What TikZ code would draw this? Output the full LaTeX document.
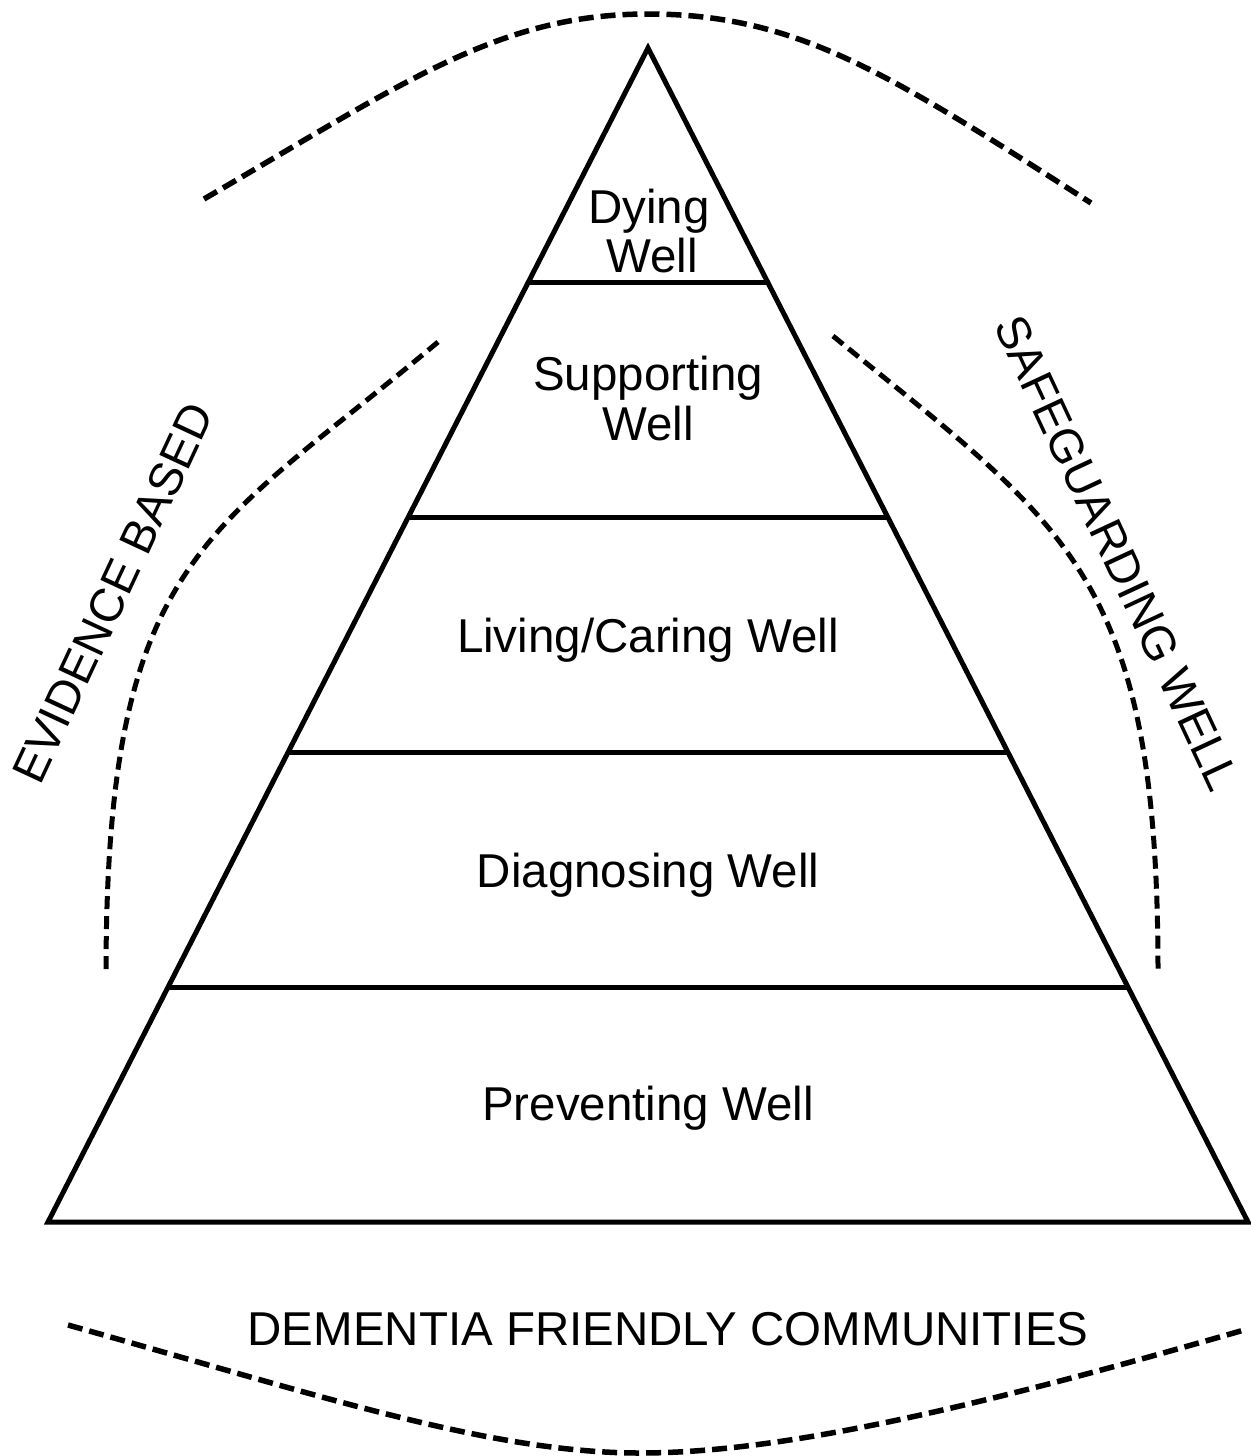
\documentclass[tikz,border=0pt]{standalone}
\usepackage{fontspec}
\setmainfont{Liberation Sans}
\usetikzlibrary{calc}
\begin{document}
\begin{tikzpicture}[x=1pt,y=-1pt,
  edge/.style={line width=5pt, line join=miter},
  layer/.style={line width=4.8pt},
  bigdash/.style={line width=5.5pt, dash pattern=on 15pt off 7pt},
  sidedash/.style={line width=5pt, dash pattern=on 13pt off 7pt},
  lbl/.style={font=\fontsize{47.5}{49}\selectfont, inner sep=0pt, anchor=base},
  side/.style={font=\fontsize{47}{49}\selectfont, inner sep=0pt, anchor=center}]
\useasboundingbox (0,0) rectangle (1250,1456);
\coordinate (A) at (648,48);
\coordinate (BL) at (48,1222);
\coordinate (BR) at (1248,1222);
\draw[edge] (A) -- (BR) -- (BL) -- cycle;
\foreach \t/\n in {0.2/a,0.4/b,0.6/c,0.8/d} {
  \coordinate (L\n) at ($(A)!\t!(BL)$);
  \coordinate (R\n) at ($(A)!\t!(BR)$);
  \draw[layer] (L\n) -- (R\n);
}
% dashed arcs
\draw[bigdash] (204,199) .. controls (404,83) and (498,14) .. (648,14)
  .. controls (798,14) and (891,75) .. (1091,203);
\draw[bigdash] (68,1325) .. controls (318,1395) and (490,1453) .. (640,1453)
  .. controls (790,1453) and (994,1402) .. (1244,1330);
\draw[sidedash] (438,342) .. controls (208,535) and (106,555) .. (106,975);
\draw[sidedash] (833,336) .. controls (1065,526) and (1158,572) .. (1158,972);
% labels
\node[lbl] (dying1) at (649,223) {Dying};
\node[lbl] (dying2) at (652,272) {Well};
\node[lbl] (supp1) at (648,390) {Supporting};
\node[lbl] (supp2) at (648,440) {Well};
\node[lbl] (living) at (648,652) {Living/Caring Well};
\node[lbl] (diag) at (648,887) {Diagnosing Well};
\node[lbl] (prev) at (648,1120) {Preventing Well};
\node[lbl] (dfc) at (668,1345) {DEMENTIA FRIENDLY COMMUNITIES};
\node[side, rotate=65] (evid) at (113,593) {EVIDENCE BASED};
\node[side, rotate=-65] (safe) at (1117,553) {SAFEGUARDING WELL};
\end{tikzpicture}
\end{document}
